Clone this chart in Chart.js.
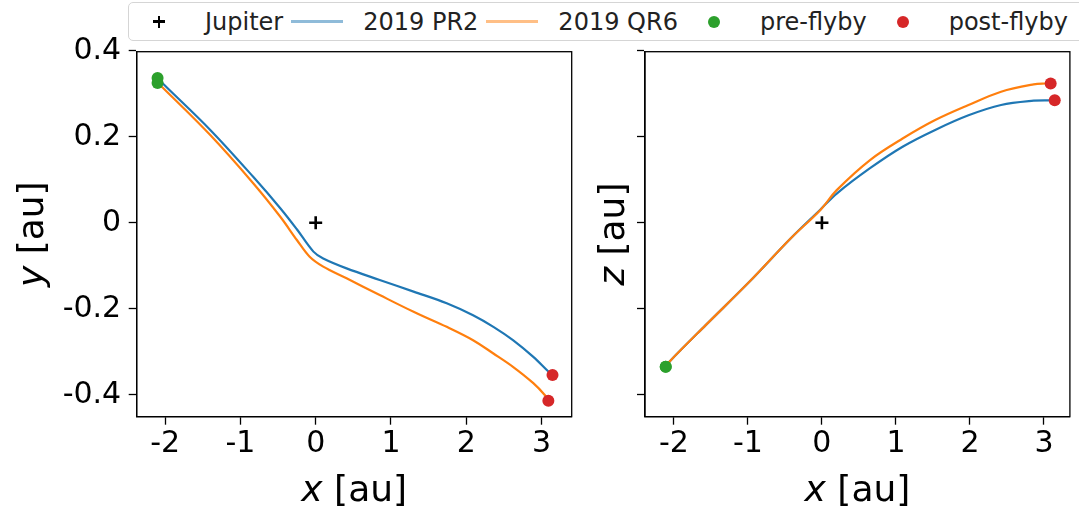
<!DOCTYPE html>
<html>
<head>
<meta charset="utf-8">
<script src="https://cdn.jsdelivr.net/npm/chart.js@4.4.0/dist/chart.umd.min.js"></script>
<style>
  body { margin: 0; width: 1079px; height: 514px; background: #fff; position: relative; overflow: hidden; font-family: "DejaVu Sans", sans-serif; }
  #xy { position: absolute; left: 0; top: 0; }
  #xz { position: absolute; left: 580px; top: 0; }
  #legend {
    position: absolute; left: 128px; top: 2px; right: -8px; height: 37px;
    border: 1px solid #d5d5d5; border-radius: 5px; background: #fff;
    display: flex; align-items: center; padding-left: 4px;
    font-size: 24px; color: #222; white-space: nowrap;
  }
  .item { display: flex; align-items: center; margin-right: 8px; }
  .item.wide { margin-right: 10px; }
  .handle { width: 52px; height: 20px; position: relative; margin-right: 20px; }
  .line { position: absolute; left: 0; right: 0; top: 8.5px; height: 3px; }
  .dot { position: absolute; left: 20px; top: 4px; width: 12px; height: 12px; border-radius: 50%; }
  .plus::before, .plus::after { content: ""; position: absolute; background: #000; }
  .plus::before { left: 20px; top: 8.75px; width: 12px; height: 2.5px; }
  .plus::after { left: 24.75px; top: 4px; width: 2.5px; height: 12px; }
</style>
</head>
<body>
<canvas id="xy" width="600" height="514"></canvas>
<canvas id="xz" width="499" height="514"></canvas>
<div id="legend">
  <div class="item"><span class="handle plus"></span><span>Jupiter</span></div>
  <div class="item"><span class="handle"><span class="line" style="background:#8fbbd9"></span></span><span>2019 PR2</span></div>
  <div class="item wide"><span class="handle"><span class="line" style="background:#ffbf86"></span></span><span>2019 QR6</span></div>
  <div class="item wide"><span class="handle"><span class="dot" style="background:#2ca02c"></span></span><span>pre-flyby</span></div>
  <div class="item"><span class="handle"><span class="dot" style="background:#d62728"></span></span><span>post-flyby</span></div>
</div>
<script>
const xTicks = [-2, -1, 0, 1, 2, 3];
const xTickLabels = ['-2', '-1', '0', '1', '2', '3'];
const yTicks = [-0.4, -0.2, 0, 0.2, 0.4];
const yTickLabels = ['-0.4', '-0.2', '0', '0.2', '0.4'];

// Jupiter at the origin
const jupiterX = [0];
const jupiterY = [0];
const jupiterZ = [0];

// 2019 PR2, x-y projection
const pr2XyX = [-2.10, -2.03, -1.40, -0.83, -0.47, -0.25, -0.03, 0.10, 0.41, 0.85, 1.30, 1.74, 2.09, 2.36, 2.62, 2.89, 3.09, 3.145];
const pr2XyY = [0.337, 0.324, 0.216, 0.107, 0.034, -0.015, -0.067, -0.083, -0.106, -0.133, -0.160, -0.187, -0.215, -0.242, -0.273, -0.312, -0.346, -0.354];

// 2019 QR6, x-y projection
const qr6XyX = [-2.10, -2.03, -1.40, -0.83, -0.47, -0.25, -0.08, 0.10, 0.41, 0.85, 1.30, 1.74, 2.09, 2.36, 2.62, 2.89, 3.045, 3.09];
const qr6XyY = [0.325, 0.314, 0.204, 0.092, 0.014, -0.040, -0.079, -0.102, -0.129, -0.168, -0.207, -0.242, -0.273, -0.304, -0.335, -0.373, -0.401, -0.414];

// 2019 PR2, x-z projection
const pr2XzX = [-2.11, -2.06, -1.57, -0.99, -0.42, -0.02, 0.20, 0.65, 1.09, 1.53, 1.98, 2.42, 2.86, 3.08, 3.145];
const pr2XzZ = [-0.335, -0.323, -0.238, -0.139, -0.036, 0.031, 0.068, 0.127, 0.177, 0.216, 0.250, 0.274, 0.284, 0.285, 0.285];

// 2019 QR6, x-z projection
const qr6XzX = [-2.11, -2.06, -1.57, -0.99, -0.42, -0.02, 0.20, 0.65, 1.09, 1.53, 1.98, 2.42, 2.86, 3.02, 3.09];
const qr6XzZ = [-0.335, -0.323, -0.238, -0.139, -0.036, 0.030, 0.076, 0.146, 0.196, 0.239, 0.274, 0.305, 0.322, 0.324, 0.324];

const BLUE = '#1f77b4', ORANGE = '#ff7f0e', GREEN = '#2ca02c', RED = '#d62728';
const FONT = 'DejaVu Sans';

function pts(xs, ys) {
  return xs.map((x, i) => ({ x: x, y: ys[i] }));
}
function first(xs, ys) { return { x: xs[0], y: ys[0] }; }
function last(xs, ys) { return { x: xs[xs.length - 1], y: ys[ys.length - 1] }; }

// box round the plot area, like matplotlib spines
const frame = {
  id: 'frame',
  afterDraw(chart) {
    const a = chart.chartArea, ctx = chart.ctx;
    ctx.save();
    ctx.strokeStyle = '#000';
    ctx.lineWidth = 1.3;
    ctx.strokeRect(a.left, a.top, a.right - a.left, a.bottom - a.top);
    ctx.restore();
  }
};

// axis titles with an italic variable and upright unit
const axisTitles = {
  id: 'axisTitles',
  afterDraw(chart, args, opts) {
    const a = chart.chartArea, ctx = chart.ctx;
    const size = 36;
    function draw(v, rest, cx, cy, rot) {
      ctx.save();
      ctx.translate(cx, cy);
      ctx.rotate(rot);
      ctx.fillStyle = '#000';
      ctx.textBaseline = 'alphabetic';
      ctx.font = 'italic ' + size + 'px "' + FONT + '"';
      const w1 = ctx.measureText(v).width;
      ctx.font = size + 'px "' + FONT + '"';
      const w2 = ctx.measureText(rest).width;
      const x0 = -(w1 + w2) / 2, base = 0.314 * size;
      ctx.font = 'italic ' + size + 'px "' + FONT + '"';
      ctx.fillText(v, x0, base);
      ctx.font = size + 'px "' + FONT + '"';
      ctx.fillText(rest, x0 + w1, base);
      ctx.restore();
    }
    draw(opts.xVar, ' [au]', (a.left + a.right) / 2, a.bottom + opts.xGap, 0);
    draw(opts.yVar, ' [au]', a.left - opts.yGap, (a.top + a.bottom) / 2, -Math.PI / 2);
  }
};

function makeChart(id, series, showYLabels, yAxisWidth, padRight, xMin, xMax, yVar, yGap) {
  const ctx = document.getElementById(id).getContext('2d');
  return new Chart(ctx, {
    type: 'scatter',
    data: { datasets: series },
    options: {
      responsive: false,
      animation: false,
      devicePixelRatio: 1,
      layout: { padding: { top: 51.7, right: padRight, left: 0, bottom: 0 } },
      plugins: {
        legend: { display: false },
        tooltip: { enabled: false },
        axisTitles: { xVar: 'x', yVar: yVar, xGap: 73.3, yGap: yGap }
      },
      scales: {
        x: {
          type: 'linear', position: 'bottom', min: xMin, max: xMax,
          afterBuildTicks: s => { s.ticks = xTicks.map(v => ({ value: v })); },
          afterFit: s => { s.height = 97.3; },
          grid: { drawOnChartArea: false, tickLength: 8, tickColor: '#000', tickWidth: 1.3 },
          border: { color: '#000', width: 1.3 },
          ticks: {
            autoSkip: false, maxRotation: 0, padding: 2, color: '#000',
            font: { family: FONT, size: 30 },
            callback: v => xTickLabels[xTicks.indexOf(v)]
          }
        },
        y: {
          type: 'linear', position: 'left', min: -0.451, max: 0.398,
          afterBuildTicks: s => { s.ticks = yTicks.map(v => ({ value: v })); },
          afterFit: s => { s.width = yAxisWidth; },
          grid: { drawOnChartArea: false, tickLength: 8, tickColor: '#000', tickWidth: 1.3 },
          border: { color: '#000', width: 1.3 },
          ticks: {
            display: showYLabels, autoSkip: false, padding: 7.5, color: '#000',
            font: { family: FONT, size: 30 },
            callback: v => yTickLabels[yTicks.indexOf(v)]
          }
        }
      }
    },
    plugins: [frame, axisTitles]
  });
}

function seriesFor(xs1, ys1, xs2, ys2, jx, jy) {
  return [
    { label: 'pre-flyby', data: [first(xs1, ys1), first(xs2, ys2)], backgroundColor: GREEN, borderColor: GREEN,
      pointRadius: 6, borderWidth: 0, order: 0 },
    { label: 'post-flyby', data: [last(xs1, ys1), last(xs2, ys2)], backgroundColor: RED, borderColor: RED,
      pointRadius: 6, borderWidth: 0, order: 0 },
    { label: 'Jupiter', data: pts(jx, jy), pointStyle: 'cross', pointRadius: 6.5, borderColor: '#000',
      borderWidth: 2.6, order: 1 },
    { label: '2019 QR6', data: pts(xs2, ys2), showLine: true, borderColor: ORANGE, borderWidth: 2.2,
      pointRadius: 0, tension: 0.35, order: 2 },
    { label: '2019 PR2', data: pts(xs1, ys1), showLine: true, borderColor: BLUE, borderWidth: 2.2,
      pointRadius: 0, tension: 0.35, order: 3 }
  ];
}

makeChart('xy', seriesFor(pr2XyX, pr2XyY, qr6XyX, qr6XyY, jupiterX, jupiterY),
  true, 136.7, 28.3, -2.377, 3.40, 'y', 105.2);
makeChart('xz', seriesFor(pr2XzX, pr2XzZ, qr6XzX, qr6XzZ, jupiterX, jupiterZ),
  false, 65, 2.3, -2.39, 3.35, 'z', 32);
</script>
</body>
</html>
